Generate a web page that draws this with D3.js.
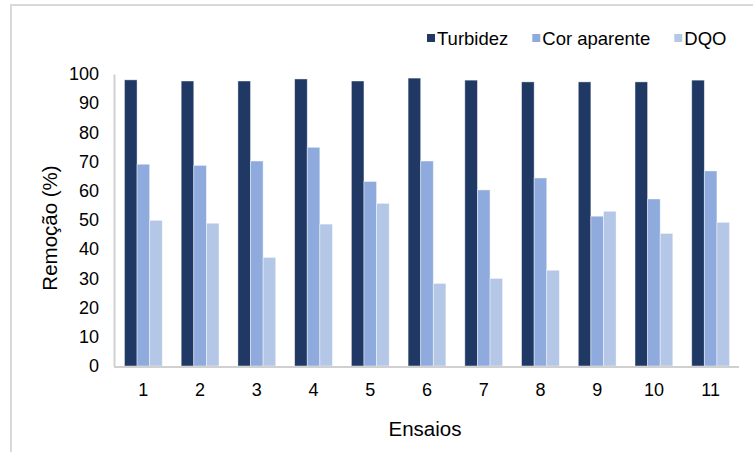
<!DOCTYPE html>
<html>
<head>
<meta charset="utf-8">
<script src="https://cdn.jsdelivr.net/npm/d3@7"></script>
<style>
  html, body { margin: 0; padding: 0; background: #fff; }
  svg { display: block; font-family: Arial, "Liberation Sans", sans-serif; }
</style>
</head>
<body>
<svg id="chart" width="753" height="452"></svg>
<script>
// Removal efficiency (%) per trial
const ensaios = ["1", "2", "3", "4", "5", "6", "7", "8", "9", "10", "11"];
const seriesNames = ["Turbidez", "Cor aparente", "DQO"];
const turbidez = [98.0, 97.6, 97.6, 98.3, 97.6, 98.6, 97.9, 97.3, 97.3, 97.3, 97.9];
const corAparente = [69.1, 68.7, 70.2, 74.9, 63.2, 70.2, 60.3, 64.4, 51.3, 57.2, 66.8];
const dqo = [49.9, 48.9, 37.2, 48.6, 55.7, 28.3, 30.0, 32.8, 53.0, 45.4, 49.2];
const yTicks = [0, 10, 20, 30, 40, 50, 60, 70, 80, 90, 100];
const colors = ["#203864", "#8faadc", "#b4c7e7"];

const seriesValues = [turbidez, corAparente, dqo];
const rows = ensaios.map((e, i) => ({
  ensaio: e,
  values: seriesNames.map((s, k) => ({ key: s, value: seriesValues[k][i] }))
}));

const svg = d3.select("#chart");

// outer frame
svg.append("rect")
  .attr("x", 11).attr("y", 5)
  .attr("width", 800).attr("height", 500)
  .attr("fill", "none")
  .attr("stroke", "#d9d9d9")
  .attr("stroke-width", 2);

const plot = { left: 115, right: 739, top: 74, bottom: 366 };

const x = d3.scaleBand()
  .domain(ensaios)
  .range([plot.left, plot.right])
  .paddingInner(1 / 3)
  .paddingOuter(1 / 6);

const xInner = d3.scaleBand()
  .domain(seriesNames)
  .range([0, x.bandwidth()]);

const y = d3.scaleLinear()
  .domain([0, 100])
  .range([plot.bottom, plot.top]);

const color = d3.scaleOrdinal().domain(seriesNames).range(colors);

// bars
const groups = svg.append("g")
  .selectAll("g")
  .data(rows)
  .join("g")
  .attr("transform", d => `translate(${x(d.ensaio)},0)`);

groups.selectAll("rect")
  .data(d => d.values)
  .join("rect")
  .attr("x", d => xInner(d.key))
  .attr("y", d => y(d.value))
  .attr("width", xInner.bandwidth())
  .attr("height", d => y(0) - y(d.value))
  .attr("fill", d => color(d.key))
  .attr("stroke", "rgba(255,255,255,0.55)")
  .attr("stroke-width", 0.8);

// y axis
const yAxis = svg.append("g")
  .attr("transform", `translate(${plot.left - 1},0)`)
  .call(d3.axisLeft(y).tickValues(yTicks).tickSize(0).tickPadding(15));
yAxis.select(".domain").attr("stroke", "#d0d0d0").attr("stroke-width", 2);
yAxis.selectAll("text")
  .attr("font-size", 18)
  .attr("font-family", "Arial, 'Liberation Sans', sans-serif")
  .attr("fill", "#000");

// x axis
const xAxis = svg.append("g")
  .attr("transform", `translate(0,${plot.bottom + 1})`)
  .call(d3.axisBottom(x).tickSize(0).tickPadding(16));
xAxis.select(".domain").attr("stroke", "#d0d0d0").attr("stroke-width", 2)
  .attr("d", `M${plot.left - 1},0H${plot.right}`);
xAxis.selectAll("text")
  .attr("font-size", 18)
  .attr("font-family", "Arial, 'Liberation Sans', sans-serif")
  .attr("fill", "#000");

// axis titles
svg.append("text")
  .attr("x", (plot.left + plot.right) / 2 - 2)
  .attr("y", 436)
  .attr("text-anchor", "middle")
  .attr("font-size", 20.5)
  .attr("fill", "#000")
  .text("Ensaios");

svg.append("text")
  .attr("transform", `translate(57,${(plot.top + plot.bottom) / 2 + 8}) rotate(-90)`)
  .attr("text-anchor", "middle")
  .attr("font-size", 20.5)
  .attr("fill", "#000")
  .text("Remoção (%)");

// legend
const legend = svg.append("g");
let lx = 427;
seriesNames.forEach(name => {
  legend.append("rect")
    .attr("x", lx).attr("y", 34)
    .attr("width", 8).attr("height", 8)
    .attr("fill", color(name));
  const t = legend.append("text")
    .attr("x", lx + 10).attr("y", 45)
    .attr("font-size", 18.5)
    .attr("fill", "#000")
    .text(name);
  lx += 10 + t.node().getComputedTextLength() + 24;
});
</script>
</body>
</html>
